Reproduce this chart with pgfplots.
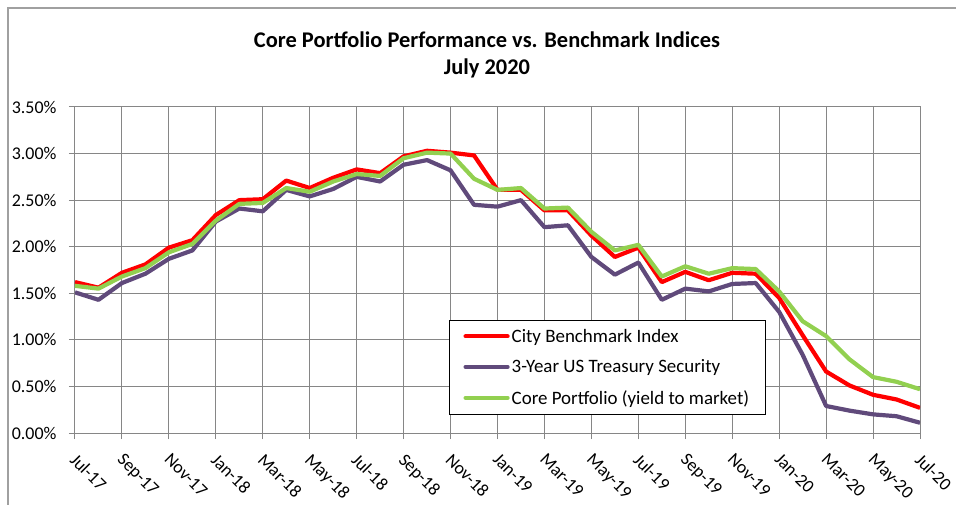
\documentclass[border=0pt]{standalone}
\usepackage{pgfplots}
\pgfplotsset{compat=1.18}
\usepackage{pgfplotstable}
\usepackage{fontspec}
\setmainfont{Carlito}

\definecolor{cityred}{RGB}{255,0,0}
\definecolor{treaspurple}{RGB}{96,74,123}
\definecolor{coregreen}{RGB}{146,208,80}
\definecolor{gridgray}{RGB}{134,134,134}
\definecolor{framegray}{RGB}{160,160,160}

% month index 0 = Jul-17 ... 36 = Jul-20, values in percent
\pgfplotstableread{
m  city  treas core
0  1.62  1.51  1.58
1  1.56  1.43  1.55
2  1.72  1.61  1.68
3  1.81  1.71  1.77
4  1.99  1.87  1.94
5  2.07  1.96  2.03
6  2.34  2.27  2.28
7  2.50  2.41  2.46
8  2.51  2.38  2.47
9  2.71  2.61  2.63
10 2.63  2.54  2.59
11 2.74  2.62  2.70
12 2.83  2.75  2.78
13 2.79  2.70  2.76
14 2.97  2.88  2.95
15 3.03  2.93  3.01
16 3.01  2.82  3.00
17 2.98  2.45  2.73
18 2.61  2.43  2.61
19 2.61  2.50  2.63
20 2.39  2.21  2.41
21 2.39  2.23  2.42
22 2.12  1.89  2.16
23 1.89  1.70  1.96
24 1.99  1.83  2.02
25 1.62  1.43  1.68
26 1.73  1.55  1.79
27 1.64  1.52  1.71
28 1.72  1.60  1.77
29 1.71  1.61  1.76
30 1.45  1.30  1.52
31 1.05  0.84  1.20
32 0.66  0.29  1.04
33 0.51  0.24  0.79
34 0.41  0.20  0.60
35 0.36  0.18  0.55
36 0.27  0.11  0.47
}\yields

\begin{document}
\begin{tikzpicture}
\useasboundingbox (0,0) rectangle (956bp,505bp);
\draw[framegray, line width=1.2bp] (8bp,0) -- (8bp,497bp) -- (956bp,497bp);
\node[font=\fontsize{22.5}{26}\selectfont\bfseries] at (487bp,465bp) {Core Portfolio Performance vs. Benchmark Indices};
\node[font=\fontsize{22.5}{26}\selectfont\bfseries] at (487bp,437bp) {July 2020};
\begin{axis}[
  at={(75bp,72bp)}, anchor=south west,
  scale only axis, width=845bp, height=326bp,
  xmin=0, xmax=36, ymin=0, ymax=3.5,
  xtick={0,2,...,36},
  xticklabels={Jul-17,Sep-17,Nov-17,Jan-18,Mar-18,May-18,Jul-18,Sep-18,Nov-18,Jan-19,Mar-19,May-19,Jul-19,Sep-19,Nov-19,Jan-20,Mar-20,May-20,Jul-20},
  ytick={0,0.5,...,3.5},
  yticklabel={\pgfmathprintnumber[fixed,fixed zerofill,precision=2]{\tick}\%},
  /pgf/number format/assume math mode=true,
  xtick pos=left, ytick pos=left,
  tick align=outside, major tick length=6bp,
  tick style={gridgray, line width=1bp},
  grid=major,
  major grid style={gridgray, line width=1bp},
  axis line style={gridgray, line width=1bp},
  tick label style={font=\fontsize{18}{21}\selectfont},
  yticklabel style={anchor=east, xshift=-9bp},
  xticklabel style={rotate=-45, anchor=north west, xshift=8bp, yshift=-4bp},
  legend style={at={(0.4426,0.0552)}, anchor=south west, draw=black, line width=1bp,
    font=\fontsize{19}{22}\selectfont, inner xsep=14bp, inner ysep=7bp,
    row sep=12bp},
  legend cell align=left,
  linestyle/.style={line width=4.2bp, line join=round,
    legend image code/.code={\draw[##1, line cap=round] (0bp,0bp) -- (42bp,0bp);}},
]
\addplot[linestyle, cityred] table[x=m, y=city] {\yields};
\addplot[linestyle, treaspurple] table[x=m, y=treas] {\yields};
\addplot[linestyle, coregreen] table[x=m, y=core] {\yields};
\legend{City Benchmark Index, 3-Year US Treasury Security, Core Portfolio (yield to market)}
\end{axis}
\end{tikzpicture}
\end{document}
